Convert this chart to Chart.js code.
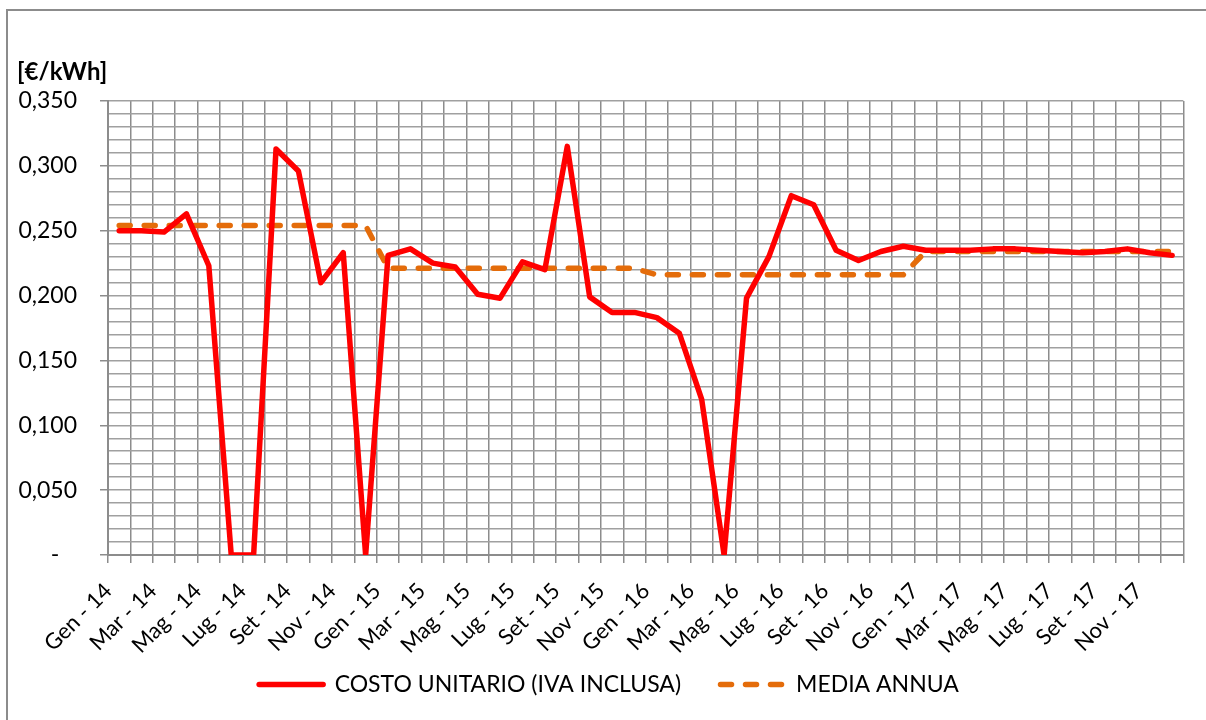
<!DOCTYPE html>
<html>
<head>
<meta charset="utf-8">
<script src="https://cdn.jsdelivr.net/npm/chart.js@4/dist/chart.umd.min.js"></script>
<style>
  body { margin: 0; background: #fff; }
  #cornice { position: absolute; left: 6px; top: 9px; width: 1220px; height: 730px; border: 2px solid #8c8c8c; }
  #wrap { position: absolute; left: 0; top: 0; width: 1206px; height: 720px; }
</style>
</head>
<body>
<div id="cornice"></div>
<div id="wrap"><canvas id="grafico" width="1206" height="720"></canvas></div>
<script>
// mesi e anni
const mesi = ['Gen', 'Feb', 'Mar', 'Apr', 'Mag', 'Giu', 'Lug', 'Ago', 'Set', 'Ott', 'Nov', 'Dic'];
const anni = ['14', '15', '16', '17'];

// costo unitario mensile [€/kWh]
const costoUnitario = [
  0.250, 0.250, 0.249, 0.263, 0.223, 0, 0, 0.313, 0.296, 0.210, 0.233, 0,
  0.231, 0.236, 0.225, 0.222, 0.201, 0.198, 0.226, 0.220, 0.315, 0.199, 0.187, 0.187,
  0.183, 0.171, 0.120, 0, 0.198, 0.230, 0.277, 0.270, 0.235, 0.227, 0.234, 0.238,
  0.235, 0.235, 0.235, 0.236, 0.236, 0.235, 0.234, 0.233, 0.234, 0.236, 0.233, 0.231
];

// media annua
const mediaAnnua = [
  0.254, 0.254, 0.254, 0.254, 0.254, 0.254, 0.254, 0.254, 0.254, 0.254, 0.254, 0.254,
  0.221, 0.221, 0.221, 0.221, 0.221, 0.221, 0.221, 0.221, 0.221, 0.221, 0.221, 0.221,
  0.216, 0.216, 0.216, 0.216, 0.216, 0.216, 0.216, 0.216, 0.216, 0.216, 0.216, 0.216,
  0.234, 0.234, 0.234, 0.234, 0.234, 0.234, 0.234, 0.234, 0.234, 0.234, 0.234, 0.234
];

const etichette = [];
anni.forEach(a => mesi.forEach(m => etichette.push(m + ' - ' + a)));

const FONT = 'Lato, "Open Sans", sans-serif';

// scritta unità di misura in alto a sinistra
const unitaPlugin = {
  id: 'unita',
  afterDraw(chart) {
    const ctx = chart.ctx;
    ctx.save();
    ctx.font = 'bold 24px ' + FONT;
    ctx.fillStyle = '#000';
    ctx.textBaseline = 'middle';
    ctx.fillText('[€/kWh]', 17, 72);
    ctx.restore();
  }
};

// sposta la legenda un po' a destra (come nell'originale)
const legendaPlugin = {
  id: 'spostaLegenda',
  afterLayout(chart) {
    if (!chart.legend) return;
    chart.legend.left += 14;
    chart.legend.right += 14;
  }
};

const isMaggiore = v => Math.round(v * 1000) % 50 === 0;

new Chart(document.getElementById('grafico').getContext('2d'), {
  type: 'line',
  data: {
    labels: etichette,
    datasets: [{
      label: 'COSTO UNITARIO (IVA INCLUSA)',
      data: costoUnitario,
      borderColor: '#ff0000',
      backgroundColor: '#ff0000',
      borderWidth: 5.5,
      borderCapStyle: 'round',
      borderJoinStyle: 'round',
      pointRadius: 0,
      tension: 0,
      fill: false
    }, {
      label: 'MEDIA ANNUA',
      data: mediaAnnua,
      borderColor: '#e46c0a',
      backgroundColor: '#e46c0a',
      borderWidth: 5.5,
      borderDash: [11, 14],
      borderCapStyle: 'round',
      borderJoinStyle: 'round',
      pointRadius: 0,
      tension: 0,
      fill: false
    }]
  },
  options: {
    responsive: false,
    animation: false,
    layout: { padding: { left: 0, right: 16, top: 101, bottom: 14 } },
    plugins: {
      title: { display: false },
      tooltip: { enabled: false },
      legend: {
        position: 'bottom',
        labels: {
          usePointStyle: true,
          pointStyleWidth: 64,
          boxHeight: 22,
          padding: 10,
          color: '#000',
          font: { family: FONT, size: 23 },
          // linea continua / tratteggiata come nel grafico
          generateLabels: chart => chart.data.datasets.map((ds, i) => ({
            text: i === 0 ? ds.label + '     ' : ds.label,
            datasetIndex: i,
            fillStyle: ds.borderColor,
            strokeStyle: ds.borderColor,
            fontColor: '#000',
            lineWidth: 5.5,
            lineCap: 'round',
            lineDash: i === 1 ? [11, 14] : [],
            pointStyle: 'line',
            hidden: false
          }))
        }
      }
    },
    scales: {
      x: {
        type: 'category',
        offset: true,
        grid: { offset: true, color: '#8c8c8c', lineWidth: 1.5, tickLength: 8, tickColor: '#8c8c8c' },
        border: { color: '#8c8c8c', width: 2 },
        ticks: {
          autoSkip: false,
          minRotation: 45,
          maxRotation: 45,
          padding: 15,
          labelOffset: -11,
          color: '#000',
          font: { family: FONT, size: 22 },
          callback: function (val, i) { return i % 2 === 0 ? this.getLabelForValue(val) : ''; }
        },
        afterFit(scale) { scale.height = 108; }
      },
      y: {
        min: 0,
        max: 0.35,
        grid: {
          color: '#a0a0a0',
          lineWidth: 1.5,
          tickLength: 8,
          tickColor: c => (c.tick && isMaggiore(c.tick.value)) ? '#8c8c8c' : 'rgba(0,0,0,0)'
        },
        border: { color: '#8c8c8c', width: 2 },
        ticks: {
          stepSize: 0.01,
          autoSkip: false,
          padding: 23,
          color: '#000',
          font: { family: FONT, size: 23 },
          callback: v => {
            if (!isMaggiore(v)) return '';
            if (Math.abs(v) < 1e-9) return '-   ';
            return v.toFixed(3).replace('.', ',');
          }
        },
        afterFit(scale) { scale.width = 108; }
      }
    }
  },
  plugins: [unitaPlugin, legendaPlugin]
});
</script>
</body>
</html>
